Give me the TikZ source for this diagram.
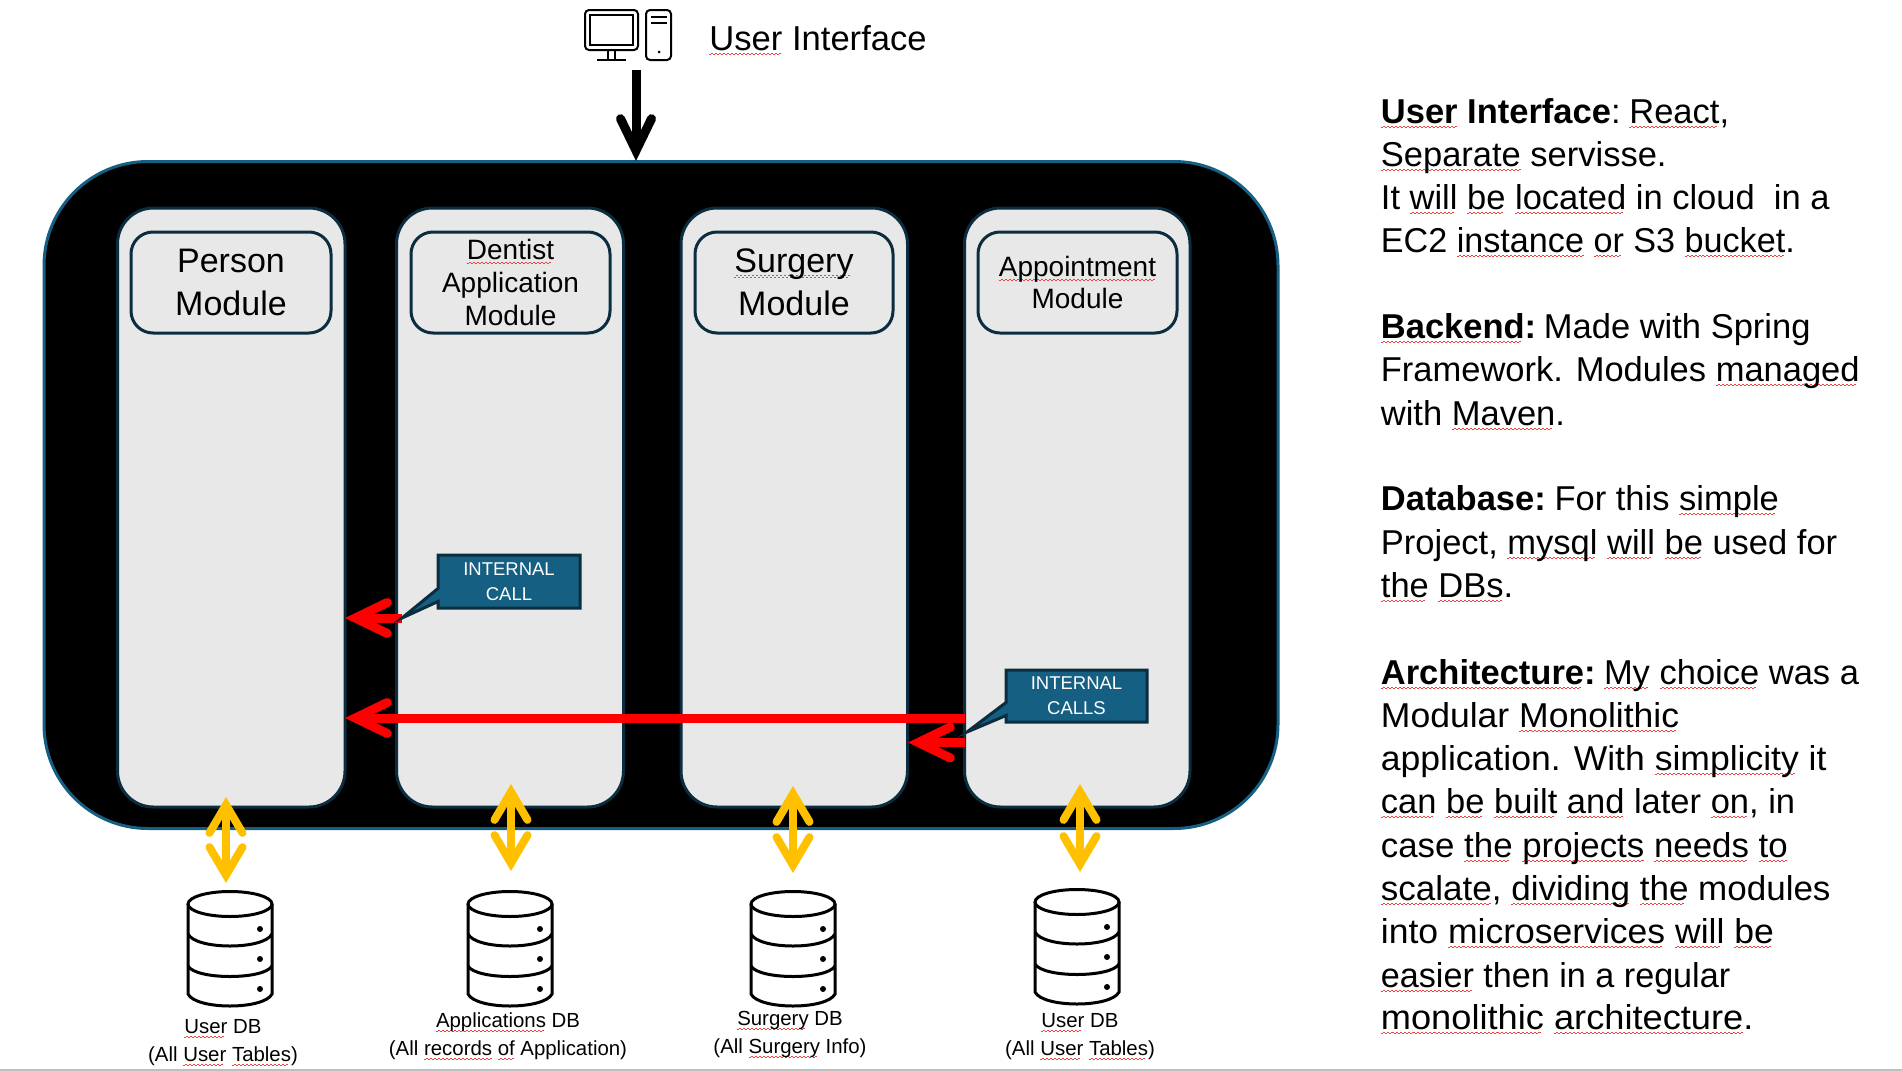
\documentclass[tikz,border=0pt]{standalone}
\usepackage{graphicx}
\usepackage{fontspec}
\setmainfont{Liberation Sans}
\usetikzlibrary{arrows.meta,shapes.callouts}
\definecolor{panelblue}{HTML}{156082}
\definecolor{darkline}{HTML}{0A2D40}
\definecolor{colfill}{HTML}{E8E8E8}
\definecolor{gold}{HTML}{FFC000}
\definecolor{wavered}{HTML}{F04040}
\newcommand\spchk[1]{\leavevmode\setbox0\hbox{#1}\rlap{\lower 2.2pt\hbox to\wd0{\color{wavered}\leaders\hbox{\rule[0pt]{1pt}{.4pt}\rule[.55pt]{1pt}{.4pt}}\hfil}}\box0\relax}
\newcommand\pxbox[7]{\node[#1,minimum width={(#5-#3)*0.5pt},minimum height={(#6-#4)*0.5pt}] (#2) at ({(#3+#5)/2},{(#4+#6)/2}) {#7};}
\newcommand\txtline[4][1]{\node[textline] (#2) at (1380.5,#3) {\scalebox{#1}[1]{#4}};}
\newcommand\dbicon[4]{%
  \begin{scope}[shift={(#2,#3)},dbline]
    \draw (#4,14) ellipse (42 and 12.5);
    \draw (#4-42,14) -- (#4-42,104) .. controls (#4-34,120) and (#4+34,120) .. (#4+42,104) -- (#4+42,14);
    \draw (#4-42,44) .. controls (#4-34,60) and (#4+34,60) .. (#4+42,44);
    \draw (#4-42,76) .. controls (#4-34,90) and (#4+34,90) .. (#4+42,76);
    \fill (#4+30,39) circle (3);
    \fill (#4+30,69) circle (3);
    \fill (#4+30,99) circle (3);
  \end{scope}}
\tikzset{
  panelbox/.style={draw=panelblue,line width=1.5pt,fill=black,rounded corners=52pt,inner sep=0pt},
  colbox/.style={draw=darkline,line width=1.5pt,fill=colfill,rounded corners=18pt,inner sep=0pt},
  headbox/.style={draw=darkline,line width=1.5pt,fill=colfill,rounded corners=11pt,inner sep=0pt,align=center},
  headbig/.style={headbox,font=\fontsize{17}{21.3}\selectfont},
  headsmall/.style={headbox,font=\fontsize{14}{16.6}\selectfont},
  headappt/.style={headbox,font=\fontsize{14}{16.3}\selectfont},
  callbox/.style={rectangle callout,draw=darkline,line width=1.5pt,fill=panelblue,text=white,inner sep=0pt,align=center,callout pointer width=6.5pt,font=\fontsize{9.25}{12.7}\selectfont},
  textline/.style={anchor=base west,inner sep=0pt,font=\fontsize{17.25}{20}\selectfont},
  dblabel/.style={anchor=base,inner sep=0pt,align=center,font=\fontsize{10.2}{13.9}\selectfont},
  blackarrow/.style={line width=4.5pt,black,-{Straight Barb[length=16pt,width=15.5pt,line cap=round,line join=miter]}},
  redarrow/.style={line width=4.5pt,red,-{Straight Barb[length=16pt,width=15.5pt,line cap=round,line join=miter]}},
  goldarrow/.style={line width=4pt,gold,{Straight Barb[length=14pt,width=16.5pt,line cap=round,line join=miter]}-{Straight Barb[length=14pt,width=16.5pt,line cap=round,line join=miter]}},
  dbline/.style={line width=1.5pt,black},
  iconline/.style={line width=1pt,black},
}
\begin{document}
\begin{tikzpicture}[x=0.5pt,y=-0.5pt]
\useasboundingbox (0,0) rectangle (1902,1071);
\draw[line width=1pt,black!25] (0,1070) -- (1902,1070);
% computer icon
\draw[iconline,rounded corners=2pt] (585,10) rectangle (638,50);
\draw[iconline] (590,15) rectangle (633,45);
\draw[iconline] (608,51) -- (608,60) (615,51) -- (615,60) (597,60) -- (626,60);
\draw[iconline,rounded corners=2pt] (646,10) rectangle (671,60);
\draw[iconline] (651,17) -- (667,17) (651,23) -- (667,23);
\fill (659,52) circle (1.5);
\node[anchor=base west,inner sep=0pt,font=\fontsize{17.3}{20}\selectfont] (uilabel) at (709,50) {\spchk{User} Interface};
% panel and columns
\pxbox{panelbox}{panel}{44}{161.5}{1278}{828.5}{}
\pxbox{colbox}{colperson}{117.5}{208}{345}{807}{}
\pxbox{colbox}{coldentist}{396.5}{208}{623.5}{807}{}
\pxbox{colbox}{colsurgery}{681}{208}{907.5}{807}{}
\pxbox{colbox}{colappt}{964.5}{208}{1190}{807}{}
\pxbox{headbig}{headperson}{131}{232}{331}{333}{Person\\Module}
\pxbox{headsmall}{headdentist}{411}{232}{610}{333}{\spchk{Dentist}\\Application\\Module}
\pxbox{headbig}{headsurgery}{695}{232}{893}{333}{\spchk{Surgery}\\Module}
\pxbox{headappt}{headappointment}{978}{232}{1177}{333}{\spchk{Appointment}\\Module}
% arrows
\coordinate (uitop) at (636,70);
\coordinate (uitip) at (636,161);
\draw[blackarrow] (uitop) -- (uitip);
\coordinate (callA) at (402,618);
\coordinate (callAtip) at (345,618);
\draw[redarrow] (callA) -- (callAtip);
\coordinate (longstart) at (965,718);
\coordinate (longtip) at (345,718);
\draw[redarrow] (longstart) -- (longtip);
\coordinate (shortstart) at (965,742.5);
\coordinate (shorttip) at (908,742.5);
\draw[redarrow] (shortstart) -- (shorttip);
\coordinate (ptrA) at (402,618);
\coordinate (ptrB) at (967,732);
\pxbox{callbox,callout absolute pointer={(ptrA)}}{calloutA}{438}{555}{580}{608}{INTERNAL\\CALL}
\pxbox{callbox,callout absolute pointer={(ptrB)}}{calloutB}{1006}{670}{1147}{722}{INTERNAL\\CALLS}
% gold arrows
\coordinate (g1a) at (226,797); \coordinate (g1b) at (226,883);
\coordinate (g2a) at (511,784); \coordinate (g2b) at (511,871);
\coordinate (g3a) at (793,786); \coordinate (g3b) at (793,873);
\coordinate (g4a) at (1080,784); \coordinate (g4b) at (1080,872);
\draw[goldarrow] (g1a) -- (g1b);
\draw[goldarrow] (g2a) -- (g2b);
\draw[goldarrow] (g3a) -- (g3b);
\draw[goldarrow] (g4a) -- (g4b);
% databases
\dbicon{db1}{230}{890}{0}
\dbicon{db2}{510}{890}{0}
\dbicon{db3}{793}{890}{0}
\dbicon{db4}{1077}{888}{0}
\node[dblabel] (dbl1) at (223,1061) {\spchk{User} DB\\(All \spchk{User} \spchk{Tables})};
\node[dblabel] (dbl2) at (508,1055) {\spchk{Applications} DB\\(All \spchk{records} \spchk{of} Application)};
\node[dblabel] (dbl3) at (790,1053) {\spchk{Surgery} DB\\(All \spchk{Surgery} Info)};
\node[dblabel] (dbl4) at (1080,1055.5) {\spchk{User} DB\\(All \spchk{User} \spchk{Tables})};
% right text
\txtline{t1}{123}{\textbf{\spchk{User} Interface}:\hspace{-2pt} \spchk{React},}
\txtline{t2}{166}{\spchk{Separate} servisse.}
\txtline{t3}{209}{It \spchk{will} \spchk{be} \spchk{located} in cloud\ \ in a}
\txtline[.99]{t4}{252}{EC2 \spchk{instance} \spchk{or} S3 \spchk{bucket}.}
\txtline{t5}{338}{\textbf{\spchk{Backend}:}\hspace{-2.5pt} Made with Spring}
\txtline{t6}{381.5}{Framework. Modules \spchk{managed}}
\txtline{t7}{425}{with \spchk{Maven}.}
\txtline{t8}{510.5}{\textbf{Database:}\hspace{-2pt} For this \spchk{simple}}
\txtline{t9}{554}{Project, \spchk{mysql} \spchk{will} \spchk{be} used for}
\txtline{t10}{597}{\spchk{the} \spchk{DBs}.}
\txtline{t11}{684}{\textbf{\spchk{Architecture}:}\hspace{-2.2pt} \spchk{My} \spchk{choice} was a}
\txtline[1.03]{t12}{727}{Modular \spchk{Monolithic}}
\txtline[1.03]{t13}{770}{application. With \spchk{simplicity} it}
\txtline{t14}{813}{\spchk{can} \spchk{be} \spchk{built} \spchk{and} later \spchk{on}, in}
\txtline[1.01]{t15}{857}{case \spchk{the} \spchk{projects} \spchk{needs} \spchk{to}}
\txtline[1.015]{t16}{900}{\spchk{scalate}, \spchk{dividing} \spchk{the} modules}
\txtline[1.03]{t17}{943}{into \spchk{microservices} \spchk{will} \spchk{be}}
\txtline[.99]{t18}{987}{\spchk{easier} then in a regular}
\txtline[1.05]{t19}{1029.5}{\spchk{monolithic} \spchk{architecture}.}
\end{tikzpicture}
\end{document}
